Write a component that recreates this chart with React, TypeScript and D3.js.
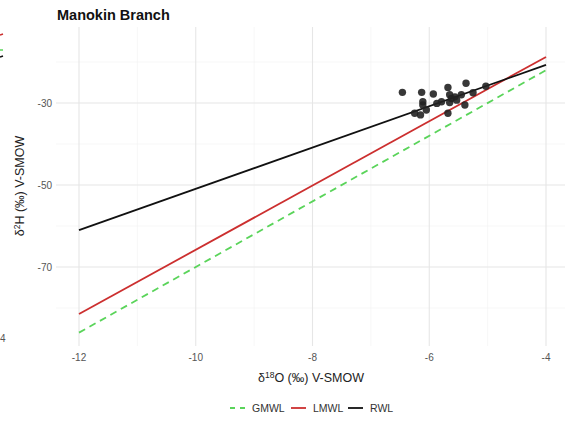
import React from "react";
import * as d3 from "d3";

const W = 565, H = 422;
const xTicks = [-12, -10, -8, -6, -4];
const xMinor = [-11, -9, -7, -5];
const yTicks = [-70, -50, -30];
const yMinor = [-80, -60, -40, -20];
const d18O = [-6.46, -6.13, -6.11, -6.11, -6.25, -6.15, -6.05, -5.93, -5.87, -5.79, -5.68, -5.65, -5.62, -5.65, -5.56, -5.53, -5.68, -5.45, -5.37, -5.39, -5.25, -5.03];
const d2H = [-27.4, -27.4, -29.7, -30.5, -32.5, -32.9, -31.7, -27.8, -30.1, -29.7, -26.2, -28.0, -28.9, -29.9, -28.5, -29.3, -32.5, -28.0, -25.2, -30.5, -27.5, -25.9];
const lineNames = ["GMWL", "LMWL", "RWL"];
const slopes = [8, 7.84, 5.04];
const intercepts = [10, 12.6, -0.55];
const colors = ["#5ad45a", "#cc2f2f", "#111111"];
const xRange = [-12, -4];

export default function App() {
  const x = d3.scaleLinear().domain([-12, -4]).range([79, 546]);
  const y = d3.scaleLinear().domain([-70, -30]).range([267, 103]);
  const top = 27, bottom = 346, left = 56, right = 565;
  const gridMajor = "#e6e6e6", gridMinor = "#f2f2f2";
  const tickColor = "#555";
  const font = "Liberation Sans, Arial, sans-serif";
  return (
    <div style={{ position: "absolute", left: 0, top: 0 }}>
      <svg width={W} height={H} style={{ display: "block", background: "#fff" }} fontFamily={font}>
        {/* bleed from neighbour panel */}
        <line x1={0} x2={3} y1={35} y2={34} stroke="#cc2f2f" strokeWidth={1.5} />
        <line x1={0} x2={3} y1={50} y2={50} stroke="#5ad45a" strokeWidth={1.5} />
        <line x1={0} x2={3} y1={57} y2={56} stroke="#111" strokeWidth={1.5} />
        <text x={0} y={342} fontSize={10} fill={tickColor}>4</text>
        {/* grid */}
        {xMinor.map((v) => (
          <line key={"xm" + v} x1={x(v)} x2={x(v)} y1={top} y2={bottom} stroke={gridMinor} strokeWidth={0.6} />
        ))}
        {yMinor.map((v) => (
          <line key={"ym" + v} x1={left} x2={right} y1={y(v)} y2={y(v)} stroke={gridMinor} strokeWidth={0.6} />
        ))}
        {xTicks.map((v) => (
          <line key={"xg" + v} x1={x(v)} x2={x(v)} y1={top} y2={bottom} stroke={gridMajor} strokeWidth={1.1} />
        ))}
        {yTicks.map((v) => (
          <line key={"yg" + v} x1={left} x2={right} y1={y(v)} y2={y(v)} stroke={gridMajor} strokeWidth={1.1} />
        ))}
        {/* lines */}
        {lineNames.map((n, i) => (
          <line
            key={n}
            x1={x(xRange[0])}
            x2={x(xRange[1])}
            y1={y(slopes[i] * xRange[0] + intercepts[i])}
            y2={y(slopes[i] * xRange[1] + intercepts[i])}
            stroke={colors[i]}
            strokeWidth={1.8}
            strokeDasharray={i === 0 ? "7,5" : undefined}
          />
        ))}
        {/* points */}
        {d18O.map((v, i) => (
          <circle key={i} cx={x(v)} cy={y(d2H[i])} r={3.7} fill="#222" fillOpacity={0.9} />
        ))}
        {/* tick labels */}
        {xTicks.map((v) => (
          <text key={"xt" + v} x={x(v)} y={361} fontSize={10} fill={tickColor} textAnchor="middle">
            {v}
          </text>
        ))}
        {yTicks.map((v) => (
          <text key={"yt" + v} x={52} y={y(v) + 3.5} fontSize={10} fill={tickColor} textAnchor="end">
            {v}
          </text>
        ))}
        {/* axis titles */}
        <text x={311} y={382} fontSize={12.5} fill="#222" textAnchor="middle">
          δ<tspan dy={-4} fontSize={8.5}>18</tspan>
          <tspan dy={4}>O (‰) V-SMOW</tspan>
        </text>
        <text transform={`translate(24,${186}) rotate(-90)`} fontSize={12.5} fill="#222" textAnchor="middle">
          δ<tspan dy={-4} fontSize={8.5}>2</tspan>
          <tspan dy={4}>H (‰) V-SMOW</tspan>
        </text>
        {/* title */}
        <text x={57} y={20} fontSize={14.5} fontWeight="bold" fill="#111">Manokin Branch</text>
        {/* legend */}
        {lineNames.map((n, i) => {
          const xs = [230, 291, 348][i];
          return (
            <g key={"lg" + n}>
              <line x1={xs} x2={xs + 15} y1={408} y2={408} stroke={colors[i]} strokeWidth={1.8}
                strokeDasharray={i === 0 ? "5,5" : undefined} />
              <text x={xs + 22} y={411.5} fontSize={10.5} fill="#333">{n}</text>
            </g>
          );
        })}
      </svg>
    </div>
  );
}
